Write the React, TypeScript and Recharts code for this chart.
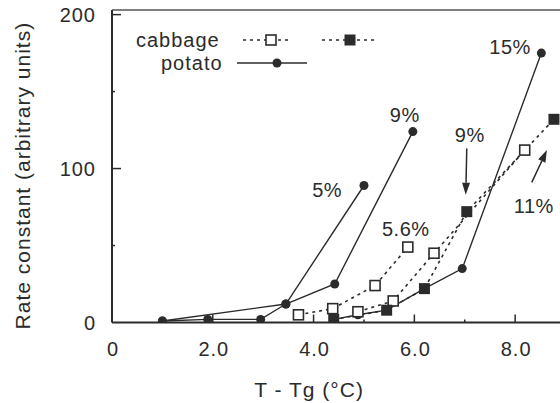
import React from 'react';
import { LineChart, Line, XAxis, YAxis, ReferenceDot, ReferenceLine } from 'recharts';

const INK = '#2b2b2b';
const FONT = '"Liberation Sans", Arial, Helvetica, sans-serif';
const FS = 20;

const xTicks = [0, 1, 2, 3, 4, 5, 6, 7, 8];
const xTickLabels: Record<number, string> = { 0: '0', 2: '2.0', 4: '4.0', 6: '6.0', 8: '8.0' };
const yTicks = [0, 50, 100, 150, 200];
const yTickLabels: Record<number, string> = { 0: '0', 100: '100', 200: '200' };
const xDomain = [0, 8.89];
const yDomain = [0, 203];

const xTitle = 'T - Tg (°C)';
const yTitle = 'Rate constant (arbitrary units)';

// potato (solid line, filled circles)
const potato5 = [
  { x: 1.0, y: 1 },
  { x: 3.45, y: 12 },
  { x: 5.0, y: 89 },
];
const potato9 = [
  { x: 1.0, y: 1 },
  { x: 1.9, y: 2 },
  { x: 2.95, y: 2 },
  { x: 3.45, y: 12 },
  { x: 4.42, y: 25 },
  { x: 5.97, y: 124 },
];
const potato15 = [
  { x: 4.4, y: 2 },
  { x: 4.88, y: 5 },
  { x: 5.45, y: 8 },
  { x: 6.2, y: 22 },
  { x: 6.95, y: 35 },
  { x: 8.52, y: 175 },
];

// cabbage (dashed line)
const cabbageOpen56 = [
  { x: 3.7, y: 5 },
  { x: 4.38, y: 9 },
  { x: 5.22, y: 24 },
  { x: 5.87, y: 49 },
];
const cabbageOpen11 = [
  { x: 4.88, y: 7 },
  { x: 5.58, y: 14 },
  { x: 6.39, y: 45 },
  { x: 8.19, y: 112 },
];
const cabbageFilled = [
  { x: 4.4, y: 2 },
  { x: 5.45, y: 8 },
  { x: 6.2, y: 22 },
  { x: 7.04, y: 72 },
  { x: 8.77, y: 132 },
];

const annotations = [
  { x: 4.27, y: 86, text: '5%' },
  { x: 5.81, y: 135, text: '9%' },
  { x: 7.9, y: 179, text: '15%' },
  { x: 5.83, y: 61, text: '5.6%' },
  { x: 7.1, y: 122, text: '9%' },
  { x: 8.37, y: 76, text: '11%' },
];

const arrows = [
  { x1: 7.04, y1: 113, x2: 7.02, y2: 83 },
  { x1: 8.33, y1: 91, x2: 8.63, y2: 112 },
];

const CircleDot = (p: any) =>
  p.cx == null ? <g key={p.key} /> : <circle key={p.key} cx={p.cx} cy={p.cy} r={4.5} fill={INK} />;
const OpenSquare = (p: any) =>
  p.cx == null ? <g key={p.key} /> : (
    <rect key={p.key} x={p.cx - 5} y={p.cy - 5} width={10} height={10} fill="#fff" stroke={INK} strokeWidth={1.6} />
  );
const FilledSquare = (p: any) =>
  p.cx == null ? <g key={p.key} /> : (
    <rect key={p.key} x={p.cx - 5.5} y={p.cy - 5.5} width={11} height={11} fill={INK} />
  );

const XTick = (p: any) => {
  const v = p.payload.value;
  const major = v % 2 === 0;
  const label = xTickLabels[v];
  return (
    <g>
      {v !== 0 && <line x1={p.x} x2={p.x} y1={p.y} y2={p.y - (major ? 8 : 3)} stroke={INK} strokeWidth={1.5} />}
      {label && (
        <text x={p.x + 1} y={p.y + 33} textAnchor="middle" fontFamily={FONT} fontSize={FS} fill={INK} letterSpacing={1}>
          {label}
        </text>
      )}
    </g>
  );
};

const YTick = (p: any) => {
  const v = p.payload.value;
  const major = v % 100 === 0;
  const label = yTickLabels[v];
  return (
    <g>
      {v !== 0 && <line x1={p.x} x2={p.x + (major ? 9 : 3)} y1={p.y} y2={p.y} stroke={INK} strokeWidth={1.5} />}
      {label && (
        <text x={p.x - 16} y={p.y} dy="0.36em" textAnchor="end" fontFamily={FONT} fontSize={FS} fill={INK} letterSpacing={1}>
          {label}
        </text>
      )}
    </g>
  );
};

const AnnText = (text: string) => (p: any) => (
  <text x={p.cx} y={p.cy} dy="0.36em" textAnchor="middle" fontFamily={FONT} fontSize={FS} fill={INK} letterSpacing={0.5}>
    {text}
  </text>
);

const ArrowShape = (p: any) => {
  const { x1, y1, x2, y2 } = p;
  if ([x1, y1, x2, y2].some((n) => n == null || isNaN(n))) return <g />;
  const dx = x2 - x1;
  const dy = y2 - y1;
  const len = Math.sqrt(dx * dx + dy * dy) || 1;
  const ux = dx / len;
  const uy = dy / len;
  const hl = 12;
  const hw = 4;
  const bx = x2 - ux * hl;
  const by = y2 - uy * hl;
  const pts = `${x2},${y2} ${bx - uy * hw},${by + ux * hw} ${bx + uy * hw},${by - ux * hw}`;
  return (
    <g>
      <line x1={x1} y1={y1} x2={bx} y2={by} stroke={INK} strokeWidth={1.5} />
      <polygon points={pts} fill={INK} />
    </g>
  );
};

const XTitle = (p: any) => {
  const vb = p.viewBox;
  return (
    <text x={vb.x + vb.width * 0.44} y={vb.y + 74} textAnchor="middle" fontFamily={FONT} fontSize={FS + 1} fill={INK} letterSpacing={1}>
      {xTitle}
    </text>
  );
};

const YTitle = (p: any) => {
  const vb = p.viewBox;
  const cx = 30;
  const cy = vb.y + vb.height * 0.53;
  return (
    <text x={cx} y={cy} transform={`rotate(-90 ${cx} ${cy})`} textAnchor="middle" fontFamily={FONT} fontSize={FS + 1} fill={INK} letterSpacing={1}>
      {yTitle}
    </text>
  );
};

const legendText: React.CSSProperties = {
  position: 'absolute',
  fontFamily: FONT,
  fontSize: FS,
  color: INK,
  letterSpacing: 1,
  lineHeight: '20px',
  whiteSpace: 'nowrap',
};

const Legend = () => (
  <div style={{ position: 'absolute', left: 0, top: 0, width: 560, height: 403, pointerEvents: 'none' }}>
    <div style={{ ...legendText, left: 136, top: 30 }}>cabbage</div>
    <svg style={{ position: 'absolute', left: 0, top: 0 }} width={560} height={100}>
      <line x1={243} x2={292} y1={40} y2={40} stroke={INK} strokeWidth={1.6} strokeDasharray="3 4" />
      <rect x={266} y={35} width={10} height={10} fill="#fff" stroke={INK} strokeWidth={1.6} />
      <line x1={322} x2={378} y1={40} y2={40} stroke={INK} strokeWidth={1.6} strokeDasharray="3 4" />
      <rect x={344.5} y={34.5} width={11} height={11} fill={INK} />
      <line x1={237} x2={307} y1={63} y2={63} stroke={INK} strokeWidth={1.4} />
      <circle cx={277} cy={63} r={4.5} fill={INK} />
    </svg>
    <div style={{ ...legendText, left: 161, top: 53 }}>potato</div>
  </div>
);

export default function App() {
  return (
    <div style={{ position: 'relative', width: 560, height: 403, background: '#fff' }}>
      <style>{'body{margin:0;background:#fff}'}</style>
      <LineChart width={560} height={403} margin={{ top: 10, right: 0, left: 0, bottom: 0.5 }}>
        <XAxis
          type="number"
          dataKey="x"
          domain={xDomain}
          allowDataOverflow
          ticks={xTicks}
          interval={0}
          height={80}
          tickSize={0}
          tickMargin={0}
          tickLine={false}
          tick={XTick}
          axisLine={{ stroke: INK, strokeWidth: 2 }}
          label={XTitle}
        />
        <YAxis
          type="number"
          dataKey="y"
          domain={yDomain}
          allowDataOverflow
          ticks={yTicks}
          interval={0}
          width={112}
          tickSize={0}
          tickMargin={0}
          tickLine={false}
          tick={YTick}
          axisLine={{ stroke: INK, strokeWidth: 2 }}
          label={YTitle}
        />
        <ReferenceLine y={203} stroke="#555" strokeWidth={1.5} />
        <Line data={potato5} dataKey="y" name="potato5" type="linear" stroke={INK} strokeWidth={1.4} dot={CircleDot} activeDot={false} isAnimationActive={false} />
        <Line data={potato9} dataKey="y" name="potato9" type="linear" stroke={INK} strokeWidth={1.4} dot={CircleDot} activeDot={false} isAnimationActive={false} />
        <Line data={potato15} dataKey="y" name="potato15" type="linear" stroke={INK} strokeWidth={1.4} dot={CircleDot} activeDot={false} isAnimationActive={false} />
        <Line data={cabbageOpen56} dataKey="y" name="cabbage56" type="linear" stroke={INK} strokeWidth={1.6} strokeDasharray="3 4" dot={OpenSquare} activeDot={false} isAnimationActive={false} />
        <Line data={cabbageOpen11} dataKey="y" name="cabbage11" type="linear" stroke={INK} strokeWidth={1.6} strokeDasharray="3 4" dot={OpenSquare} activeDot={false} isAnimationActive={false} />
        <Line data={cabbageFilled} dataKey="y" name="cabbage9" type="linear" stroke={INK} strokeWidth={1.6} strokeDasharray="3 4" dot={FilledSquare} activeDot={false} isAnimationActive={false} />
        {annotations.map((a, i) => (
          <ReferenceDot key={'a' + i} x={a.x} y={a.y} r={0} shape={AnnText(a.text)} />
        ))}
        {arrows.map((a, i) => (
          <ReferenceLine
            key={'r' + i}
            segment={[
              { x: a.x1, y: a.y1 },
              { x: a.x2, y: a.y2 },
            ]}
            shape={ArrowShape}
          />
        ))}
      </LineChart>
      <Legend />
    </div>
  );
}
